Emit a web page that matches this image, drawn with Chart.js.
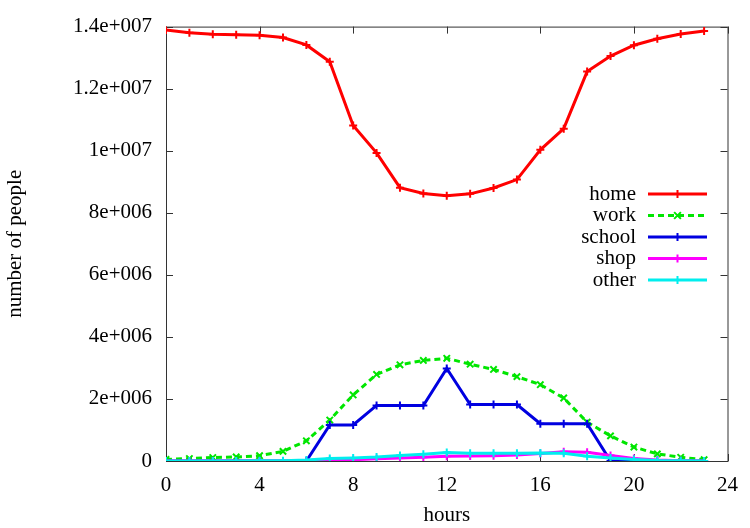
<!DOCTYPE html>
<html>
<head>
<meta charset="utf-8">
<title>number of people by hour</title>
<script src="https://cdn.jsdelivr.net/npm/chart.js"></script>
<style>
  html, body { margin: 0; padding: 0; background: #fff; }
  #wrap { width: 750px; height: 528px; }
</style>
</head>
<body>
<div id="wrap"><canvas id="peopleChart" width="750" height="528"></canvas></div>
<script>
// --- dados ---
const hours = [0, 1, 2, 3, 4, 5, 6, 7, 8, 9, 10, 11, 12, 13, 14, 15, 16, 17, 18, 19, 20, 21, 22, 23];
const seriesNames = ['home', 'work', 'school', 'shop', 'other'];
const homeValues = [13890000, 13800000, 13750000, 13740000, 13720000, 13650000, 13410000, 12870000,
  10810000, 9930000, 8810000, 8620000, 8550000, 8610000, 8800000, 9070000, 10030000, 10710000,
  12550000, 13050000, 13400000, 13610000, 13760000, 13860000];
const workValues = [50000, 80000, 110000, 130000, 170000, 310000, 650000, 1320000, 2130000, 2790000,
  3100000, 3240000, 3310000, 3120000, 2950000, 2720000, 2460000, 2030000, 1250000, 810000, 450000,
  230000, 120000, 40000];
const schoolValues = [0, 0, 0, 0, 0, 0, 0, 1160000, 1160000, 1790000, 1790000, 1790000, 2980000,
  1820000, 1820000, 1820000, 1200000, 1200000, 1200000, 0, 0, 0, 0, 0];
const shopValues = [0, 0, 0, 0, 0, 0, 5000, 20000, 40000, 70000, 100000, 120000, 150000, 160000,
  170000, 190000, 240000, 300000, 280000, 180000, 80000, 30000, 10000, 0];
const otherValues = [0, 0, 0, 0, 5000, 10000, 30000, 80000, 100000, 130000, 180000, 220000, 270000,
  250000, 250000, 250000, 260000, 250000, 150000, 100000, 50000, 20000, 10000, 0];
const xTickValues = [0, 4, 8, 12, 16, 20, 24];
const yTickValues = [0, 2e6, 4e6, 6e6, 8e6, 10e6, 12e6, 14e6];
const yTickLabels = ['0', '2e+006', '4e+006', '6e+006', '8e+006', '1e+007', '1.2e+007', '1.4e+007'];

const FONT = { family: '"Liberation Serif", "DejaVu Serif", serif', size: 21 };
const colors = ['#ff0000', '#00e600', '#0000e0', '#ff00ff', '#00eeee'];
const markers = ['cross', 'crossRot', 'cross', 'cross', 'cross'];
const allValues = [homeValues, workValues, schoolValues, shopValues, otherValues];

const datasets = seriesNames.map((name, i) => ({
  label: name,
  data: hours.map((h, k) => ({ x: h, y: allValues[i][k] })),
  borderColor: colors[i],
  backgroundColor: colors[i],
  borderWidth: 3,
  borderDash: i === 1 ? [6, 4] : [],
  pointStyle: markers[i],
  pointRadius: i === 1 ? 4.5 : 4,
  pointBorderWidth: 2,
  pointHoverRadius: 4,
  tension: 0,
  order: seriesNames.length - i   // o último desenha por cima, como no gnuplot
}));

// moldura com ticks para dentro nos quatro lados
const framePlugin = {
  id: 'frame',
  beforeDatasetsDraw(chart) {
    const { ctx, chartArea: a, scales } = chart;
    const len = 7;
    ctx.save();
    ctx.strokeStyle = '#333';
    ctx.lineWidth = 1;
    ctx.strokeRect(a.left + 0.5, a.top + 0.5, a.right - a.left, a.bottom - a.top);
    ctx.beginPath();
    xTickValues.forEach(v => {
      const px = Math.round(scales.x.getPixelForValue(v)) + 0.5;
      ctx.moveTo(px, a.bottom); ctx.lineTo(px, a.bottom - len);
      ctx.moveTo(px, a.top); ctx.lineTo(px, a.top + len);
    });
    yTickValues.forEach(v => {
      const py = Math.round(scales.y.getPixelForValue(v)) + 0.5;
      ctx.moveTo(a.left, py); ctx.lineTo(a.left + len, py);
      ctx.moveTo(a.right, py); ctx.lineTo(a.right - len, py);
    });
    ctx.stroke();
    ctx.restore();
  }
};

// legenda no estilo gnuplot: texto à direita, amostra de linha depois
const keyPlugin = {
  id: 'gnuKey',
  afterDatasetsDraw(chart) {
    const { ctx } = chart;
    const textRight = 636, lineStart = 648, lineEnd = 707, firstRow = 194, rowStep = 21.5;
    ctx.save();
    ctx.font = FONT.size + 'px ' + FONT.family;
    ctx.textAlign = 'right';
    ctx.textBaseline = 'middle';
    chart.data.datasets.forEach((ds, i) => {
      const y = firstRow + i * rowStep;
      ctx.fillStyle = '#000';
      ctx.fillText(ds.label, textRight, y);
      ctx.strokeStyle = ds.borderColor;
      ctx.lineWidth = 3;
      ctx.setLineDash(ds.borderDash);
      ctx.beginPath();
      ctx.moveTo(lineStart, y); ctx.lineTo(lineEnd, y);
      ctx.stroke();
      ctx.setLineDash([]);
      const cx = (lineStart + lineEnd) / 2, r = ds.pointRadius;
      ctx.lineWidth = 2;
      ctx.beginPath();
      if (ds.pointStyle === 'crossRot') {
        ctx.moveTo(cx - r * 0.75, y - r * 0.75); ctx.lineTo(cx + r * 0.75, y + r * 0.75);
        ctx.moveTo(cx - r * 0.75, y + r * 0.75); ctx.lineTo(cx + r * 0.75, y - r * 0.75);
      } else {
        ctx.moveTo(cx, y - r); ctx.lineTo(cx, y + r);
        ctx.moveTo(cx - r, y); ctx.lineTo(cx + r, y);
      }
      ctx.stroke();
    });
    ctx.restore();
  }
};

new Chart(document.getElementById('peopleChart'), {
  type: 'line',
  data: { datasets },
  plugins: [framePlugin, keyPlugin],
  options: {
    responsive: false,
    animation: false,
    events: [],
    layout: { padding: { top: 13, right: 17, bottom: 0, left: 0 } },
    plugins: { legend: { display: false }, tooltip: { enabled: false } },
    scales: {
      x: {
        type: 'linear',
        min: 0,
        max: 24,
        afterBuildTicks: scale => { scale.ticks = xTickValues.map(v => ({ value: v })); },
        afterFit: scale => { scale.height = 67; },
        ticks: { font: FONT, color: '#000', padding: 12, maxRotation: 0 },
        grid: { display: false, drawTicks: false },
        border: { display: false },
        title: { display: true, text: 'hours', font: FONT, color: '#000', padding: { top: 0, bottom: 0 } }
      },
      y: {
        min: 0,
        max: 14e6,
        afterBuildTicks: scale => { scale.ticks = yTickValues.map(v => ({ value: v })); },
        afterFit: scale => { scale.width = 166; },
        ticks: {
          font: FONT,
          color: '#000',
          padding: 14,
          callback: v => yTickLabels[yTickValues.indexOf(v)]
        },
        grid: { display: false, drawTicks: false },
        border: { display: false },
        title: { display: true, text: 'number of people', font: FONT, color: '#000', padding: { top: 3, bottom: 3 } }
      }
    }
  }
});
</script>
</body>
</html>
